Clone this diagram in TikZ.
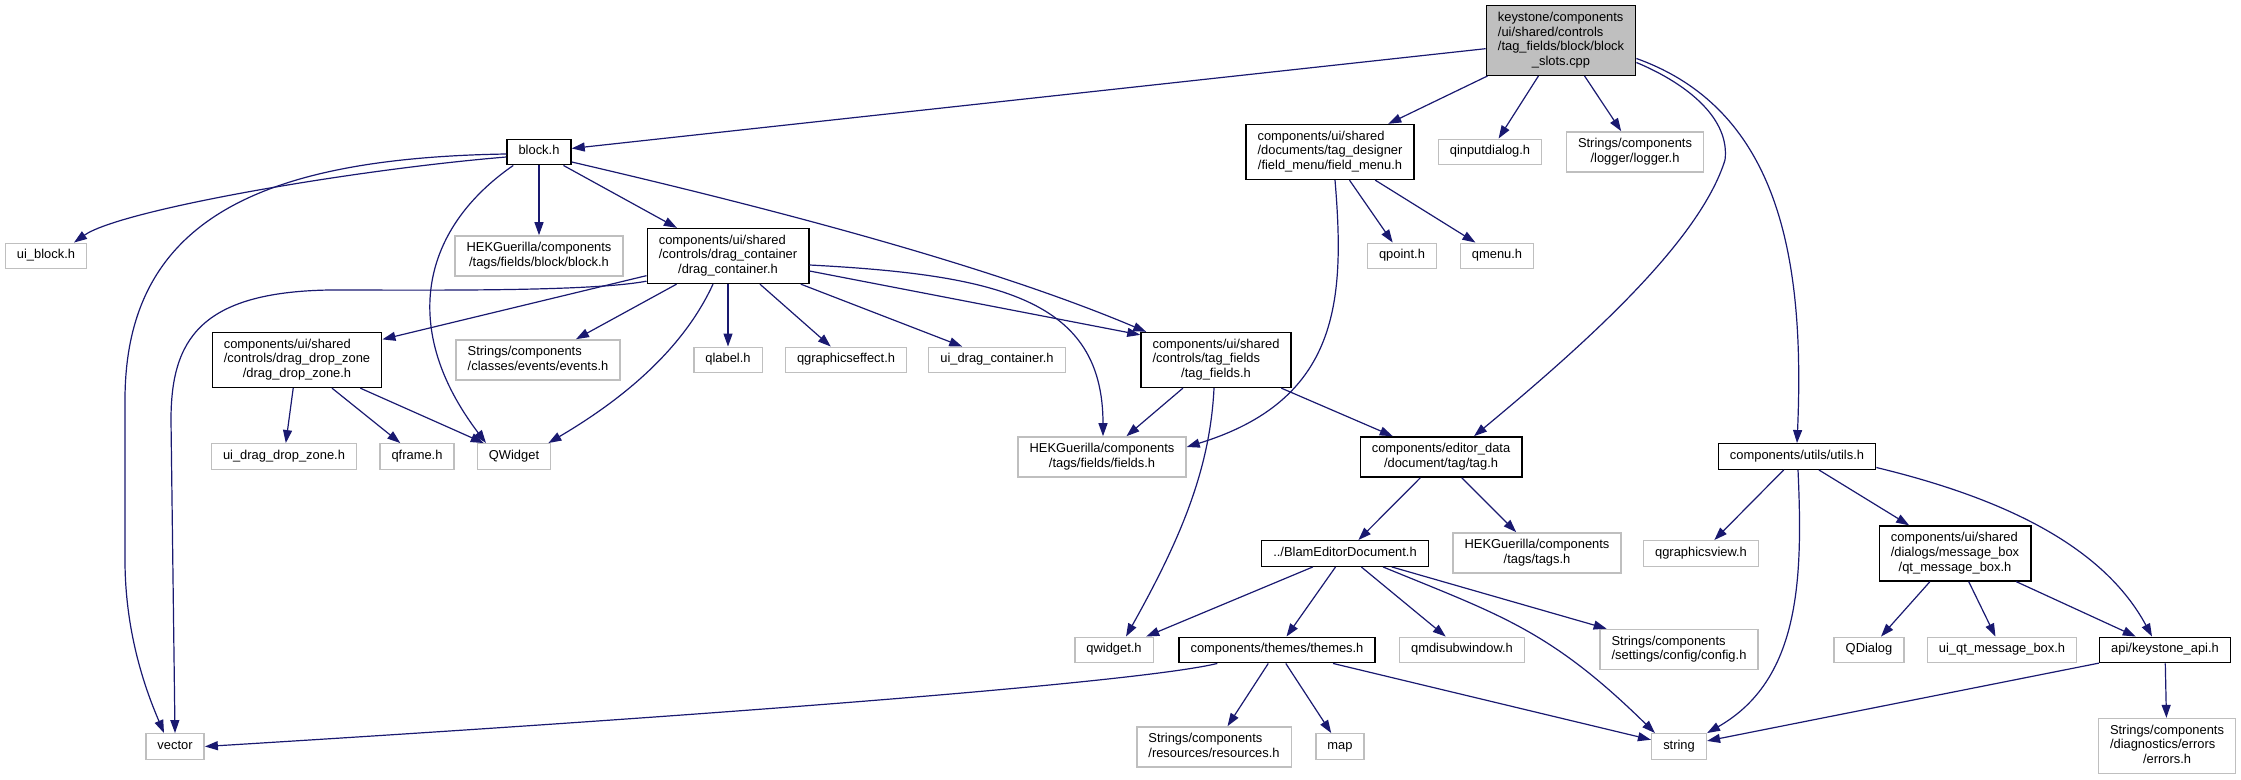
\documentclass[tikz,border=0pt]{standalone}
\usepackage{fontspec}
\setmainfont{Liberation Sans}
\usetikzlibrary{arrows.meta,calc}
\definecolor{DxEdge}{HTML}{191970}
\definecolor{DxGrey}{HTML}{BFBFBF}
\newcommand{\lone}[1]{\begin{tabular}{@{}c@{}}#1\end{tabular}}
\newcommand{\lmany}[2]{\begin{tabular}{@{}l@{}}#1\\\multicolumn{1}{@{}c@{}}{#2}\end{tabular}}

\begin{document}
\begin{tikzpicture}[
    x=0.5pt, y=-0.5pt,
    hdrbox/.style={
      draw=black,
      fill=white,
      line width=0.7pt,
      inner xsep=5.8pt,
      inner ysep=2.7pt,
      font=\fontsize{6.45}{7.35}\selectfont
    },
    extbox/.style={hdrbox, draw=DxGrey},
    srcbox/.style={hdrbox, fill=DxGrey},
    incarrow/.style={
      -{Triangle[length=6.5pt,width=4.5pt]},
      line width=0.6pt,
      DxEdge
    }
  ]
  \useasboundingbox (0,0) rectangle (2241,780);

  % source file
  \node[srcbox] (root) at (1561,40.5) {\lmany{keystone/components\\/ui/shared/controls\\/tag\_fields/block/block}{\_slots.cpp}};

  % rank 1
  \node[hdrbox] (blk) at (539,152) {\lone{block.h}};
  \node[hdrbox] (fmenu) at (1330,152) {\lmany{components/ui/shared\\/documents/tag\_designer}{/field\_menu/field\_menu.h}};
  \node[extbox] (qinput) at (1490,152) {\lone{qinputdialog.h}};
  \node[extbox] (logger) at (1635,152) {\lmany{Strings/components}{/logger/logger.h}};

  % rank 2
  \node[extbox] (uiblk) at (46,256) {\lone{ui\_block.h}};
  \node[extbox] (hekblk) at (539,256) {\lmany{HEKGuerilla/components}{/tags/fields/block/block.h}};
  \node[hdrbox] (dragc) at (728,256) {\lmany{components/ui/shared\\/controls/drag\_container}{/drag\_container.h}};
  \node[extbox] (qpoint) at (1402,256) {\lone{qpoint.h}};
  \node[extbox] (qmenu) at (1497,256) {\lone{qmenu.h}};

  % rank 3
  \node[hdrbox] (ddz) at (297,360) {\lmany{components/ui/shared\\/controls/drag\_drop\_zone}{/drag\_drop\_zone.h}};
  \node[extbox] (events) at (538,360) {\lmany{Strings/components}{/classes/events/events.h}};
  \node[extbox] (qlabel) at (728,360) {\lone{qlabel.h}};
  \node[extbox] (qgfx) at (846,360) {\lone{qgraphicseffect.h}};
  \node[extbox] (uidragc) at (997,360) {\lone{ui\_drag\_container.h}};
  \node[hdrbox] (tagf) at (1216,360) {\lmany{components/ui/shared\\/controls/tag\_fields}{/tag\_fields.h}};

  % rank 4
  \node[extbox] (uiddz) at (284,456.5) {\lone{ui\_drag\_drop\_zone.h}};
  \node[extbox] (qframe) at (417,456.5) {\lone{qframe.h}};
  \node[extbox] (qwgt) at (514,456.5) {\lone{QWidget}};
  \node[extbox] (fields) at (1102,457) {\lmany{HEKGuerilla/components}{/tags/fields/fields.h}};
  \node[hdrbox] (tagh) at (1441,457) {\lmany{components/editor\_data}{/document/tag/tag.h}};
  \node[hdrbox] (utils) at (1797,456.5) {\lone{components/utils/utils.h}};

  % rank 5
  \node[hdrbox] (blam) at (1345,553.5) {\lone{../BlamEditorDocument.h}};
  \node[extbox] (tags) at (1537,553) {\lmany{HEKGuerilla/components}{/tags/tags.h}};
  \node[extbox] (qgview) at (1701,553.5) {\lone{qgraphicsview.h}};
  \node[hdrbox] (qtmb) at (1955,553.5) {\lmany{components/ui/shared\\/dialogs/message\_box}{/qt\_message\_box.h}};

  % rank 6
  \node[extbox] (qwidgeth) at (1114,650) {\lone{qwidget.h}};
  \node[hdrbox] (themes) at (1277,650) {\lone{components/themes/themes.h}};
  \node[extbox] (qmdi) at (1462,650) {\lone{qmdisubwindow.h}};
  \node[extbox] (config) at (1679,649.5) {\lmany{Strings/components}{/settings/config/config.h}};
  \node[extbox] (qdialog) at (1869,650) {\lone{QDialog}};
  \node[extbox] (uiqtmb) at (2002,650) {\lone{ui\_qt\_message\_box.h}};
  \node[hdrbox] (kapi) at (2165,650) {\lone{api/keystone\_api.h}};

  % rank 7
  \node[extbox] (vector) at (175,746.5) {\lone{vector}};
  \node[extbox] (resources) at (1214,747) {\lmany{Strings/components}{/resources/resources.h}};
  \node[extbox] (map) at (1340,746.5) {\lone{map}};
  \node[extbox] (string) at (1679,746.5) {\lone{string}};
  \node[extbox] (errors) at (2167,746) {\lmany{Strings/components\\/diagnostics/errors}{/errors.h}};

  % includes of the source file
  \draw[incarrow] (root) -- (blk);
  \draw[incarrow] (root) -- (fmenu);
  \draw[incarrow] (root) -- (qinput);
  \draw[incarrow] (root) -- (logger);
  \draw[incarrow] ($(root.east)+(0,22)$) .. controls (1690,85) and (1730,120) .. (1725,160)
    .. controls (1700,240) and (1590,340) .. ($(tagh.north)+(33,0)$);
  \draw[incarrow] ($(root.east)+(0,18)$) .. controls (1780,110) and (1805,260) .. (utils.north);

  % block.h
  \draw[incarrow] ($(blk.west)+(0,5)$) .. controls (350,170) and (120,210) .. ($(uiblk.north)+(28,0)$);
  \draw[incarrow] ($(blk.west)+(0,2)$) .. controls (260,158) and (125,220) .. (125,400) -- (125,560)
    .. controls (125,640) and (150,700) .. ($(vector.north)+(-11,0)$);
  \draw[incarrow] ($(blk.south west)+(7,0)$) .. controls (420,230) and (400,330) .. ($(qwgt.north)+(-28,0)$);
  \draw[incarrow] (blk) -- (hekblk);
  \draw[incarrow] (blk) -- (dragc);
  \draw[incarrow] ($(blk.east)+(0,10)$) .. controls (800,215) and (1000,270) .. ($(tagf.north west)+(6,0)$);

  % drag_container.h
  \draw[incarrow] ($(dragc.south west)+(0,-3)$) .. controls (590,292) and (420,290) .. (330,290)
    .. controls (200,292) and (171,340) .. (171,420) -- (vector.north);
  \draw[incarrow] (dragc) -- (ddz);
  \draw[incarrow] (dragc) -- (events);
  \draw[incarrow] ($(dragc.south)+(-15,0)$) .. controls (685,345) and (630,395) .. ($(qwgt.north east)+(-3,0)$);
  \draw[incarrow] (dragc) -- (qlabel);
  \draw[incarrow] (dragc) -- (qgfx);
  \draw[incarrow] (dragc) -- (uidragc);
  \draw[incarrow] ($(dragc.east)+(0,15)$) -- ($(tagf.north west)+(0,3)$);
  \draw[incarrow] ($(dragc.east)+(0,9)$) .. controls (1000,275) and (1103,300) .. ($(fields.north)+(1,0)$);

  % drag_drop_zone.h
  \draw[incarrow] (ddz) -- (uiddz);
  \draw[incarrow] (ddz) -- (qframe);
  \draw[incarrow] (ddz) -- (qwgt);

  % field_menu.h
  \draw[incarrow] (fmenu) -- (qpoint);
  \draw[incarrow] (fmenu) -- (qmenu);
  \draw[incarrow] ($(fmenu.south)+(5,0)$) .. controls (1345,300) and (1340,400) .. ($(fields.east)+(0,-10)$);

  % tag_fields.h
  \draw[incarrow] (tagf) -- (fields);
  \draw[incarrow] ($(tagf.south)+(-2,0)$) .. controls (1210,470) and (1180,540) .. ($(qwidgeth.north)+(12,0)$);
  \draw[incarrow] (tagf) -- (tagh);

  % tag.h
  \draw[incarrow] (tagh) -- (blam);
  \draw[incarrow] (tagh) -- (tags);

  % BlamEditorDocument.h
  \draw[incarrow] (blam) -- (qwidgeth);
  \draw[incarrow] (blam) -- (themes);
  \draw[incarrow] (blam) -- (qmdi);
  \draw[incarrow] (blam) -- (config);
  \draw[incarrow] ($(blam.south)+(38,0)$) .. controls (1500,615) and (1550,630) .. ($(string.north west)+(4,0)$);

  % themes.h
  \draw[incarrow] ($(themes.south west)+(39,0)$) .. controls (1150,680) and (800,710) .. (vector.east);
  \draw[incarrow] (themes) -- (resources);
  \draw[incarrow] (themes) -- (map);
  \draw[incarrow] (themes) -- (string);

  % utils.h
  \draw[incarrow] (utils) -- (qgview);
  \draw[incarrow] ($(utils.south)+(1,0)$) .. controls (1803,580) and (1800,680) .. (string.north east);
  \draw[incarrow] (utils) -- (qtmb);
  \draw[incarrow] ($(utils.east)+(0,11)$) .. controls (1990,495) and (2100,540) .. ($(kapi.north)+(-13,0)$);

  % qt_message_box.h
  \draw[incarrow] (qtmb) -- (qdialog);
  \draw[incarrow] (qtmb) -- (uiqtmb);
  \draw[incarrow] (qtmb) -- (kapi);

  % keystone_api.h
  \draw[incarrow] (kapi) -- (string);
  \draw[incarrow] (kapi) -- (errors);
\end{tikzpicture}
\end{document}
